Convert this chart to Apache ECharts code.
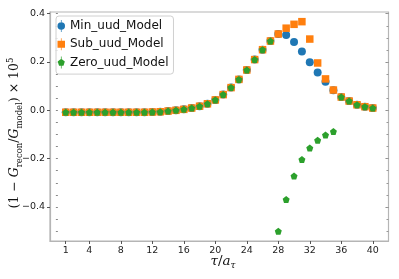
<!DOCTYPE html>
<html>
<head>
<meta charset="utf-8">
<script src="https://cdn.jsdelivr.net/npm/echarts@6/dist/echarts.min.js"></script>
<style>html,body{margin:0;padding:0;background:#fff}#c{width:399px;height:279px}</style>
</head>
<body>
<div id="c"></div>
<script>
const tau = [1,2,3,4,5,6,7,8,9,10,11,12,13,14,15,16,17,18,19,20,21,22,23,24,25,26,27,28,29,30,31,32,33,34,35,36,37,38,39,40];
const minModel = [-0.008,-0.008,-0.008,-0.008,-0.008,-0.008,-0.008,-0.008,-0.008,-0.008,-0.008,-0.007,-0.006,-0.003,0.000,0.004,0.0095,0.017,0.027,0.043,0.065,0.094,0.128,0.167,0.210,0.251,0.287,0.316,0.312,0.283,0.243,0.199,0.157,0.118,0.083,0.055,0.0385,0.023,0.015,0.0095];
const subModel = [-0.008,-0.008,-0.008,-0.008,-0.008,-0.008,-0.008,-0.008,-0.008,-0.008,-0.008,-0.007,-0.006,-0.003,0.000,0.004,0.0095,0.017,0.027,0.043,0.065,0.094,0.128,0.167,0.210,0.251,0.287,0.316,0.340,0.356,0.367,0.295,0.196,0.130,0.084,0.055,0.0385,0.023,0.015,0.0095];
const zeroModel = [-0.008,-0.008,-0.008,-0.008,-0.008,-0.008,-0.008,-0.008,-0.008,-0.008,-0.008,-0.007,-0.006,-0.003,0.000,0.004,0.0095,0.017,0.027,0.043,0.065,0.094,0.128,0.167,0.210,0.251,0.287,-0.501,-0.369,-0.272,-0.204,-0.156,-0.124,-0.102,-0.088,0.055,0.0385,0.023,0.015,0.0095];
const xTicks = [1,4,8,12,16,20,24,28,32,36,40];
const yTicks = [-0.4,-0.2,0.0,0.2,0.4];
const yMinorTicks = [-0.5,-0.45,-0.4,-0.35,-0.3,-0.25,-0.2,-0.15,-0.1,-0.05,0.0,0.05,0.1,0.15,0.2,0.25,0.3,0.35,0.4];
const seriesNames = ['Min_uud_Model','Sub_uud_Model','Zero_uud_Model'];

const pentagon = 'path://M0,-1L0.951,-0.309L0.588,0.809L-0.588,0.809L-0.951,-0.309Z';
const bar = 'M-0.09,-1.6h0.18v0.75h-0.18z M-0.09,0.85h0.18v0.75h-0.18z ';
const iconCircle = 'path://' + bar + 'M1,0A1,1 0 1 1 -1,0A1,1 0 1 1 1,0Z';
const iconRect = 'path://' + bar + 'M-1,-0.95h2v1.9h-2z';
const iconPent = 'path://' + bar + 'M0,-1L0.951,-0.309L0.588,0.809L-0.588,0.809L-0.951,-0.309Z';
const colors = ['#1f77b4','#ff7f0e','#2ca02c'];
const spine = '#b5b5b5';
const pair = arr => tau.map((t,i)=>[t,arr[i]]);
const fmtY = v => (Math.abs(v)<1e-9 ? '0.0' : v.toFixed(1).replace('-','\u2212'));
const YMIN = -0.541, YMAX = 0.407;

function yAx(opts){
  return Object.assign({
    type:'value', min:YMIN, max:YMAX, splitLine:{show:false},
    axisLine:{show:false}, axisLabel:{show:false}, axisTick:{show:false}
  }, opts);
}

const chart = echarts.init(document.getElementById('c'), null, {renderer:'canvas'});
chart.setOption({
  animation:false,
  grid:{left:50, right:10.5, top:12, bottom:38, show:true, borderColor:spine, borderWidth:1.2, backgroundColor:'#fff'},
  legend:{
    orient:'vertical', left:56, top:16,
    padding:[2.5,5,4,1.5], itemGap:3.3, itemWidth:7.5, itemHeight:12,
    borderColor:'#d0d0d0', borderWidth:1, borderRadius:3, backgroundColor:'rgba(255,255,255,0.8)',
    textStyle:{fontFamily:'DejaVu Sans', fontSize:12, lineHeight:15, color:'#111', padding:[0,0,0,0]},
    data:[
      {name:seriesNames[0], icon:iconCircle},
      {name:seriesNames[1], icon:iconRect},
      {name:seriesNames[2], icon:iconPent}
    ]
  },
  xAxis:[
    {type:'value', min:-1, max:42, position:'bottom', splitLine:{show:false},
     axisLine:{show:true, onZero:false, lineStyle:{color:spine, width:1.2}},
     axisTick:{show:true, customValues:xTicks, length:3, lineStyle:{color:'#555'}},
     axisLabel:{customValues:xTicks, margin:5, fontFamily:'DejaVu Sans', fontSize:9.5, color:'#222'}},
  ],
  yAxis:[
    yAx({position:'left', axisLine:{show:true, onZero:false, lineStyle:{color:spine, width:1.2}},
      axisTick:{show:true, customValues:yTicks, length:3, lineStyle:{color:'#555'}},
      axisLabel:{show:true, customValues:yTicks, formatter:fmtY, margin:5, fontFamily:'DejaVu Sans', fontSize:9.5, color:'#222'}}),
    yAx({position:'left', axisTick:{show:true, customValues:yMinorTicks, length:2, lineStyle:{color:'#888'}}}),
    yAx({position:'right', axisTick:{show:true, inside:true, customValues:yTicks, length:3, lineStyle:{color:'#888'}}}),
    yAx({position:'right', axisTick:{show:true, inside:true, customValues:yMinorTicks, length:2, lineStyle:{color:'#999'}}})
  ],
  series:[
    {name:seriesNames[0], type:'scatter', symbol:'circle', symbolSize:8, data:pair(minModel), itemStyle:{color:colors[0], opacity:1}, z:2},
    {name:seriesNames[1], type:'scatter', symbol:'rect', symbolSize:7.5, data:pair(subModel), itemStyle:{color:colors[1], opacity:1}, z:3},
    {name:seriesNames[2], type:'scatter', symbol:pentagon, symbolSize:7, data:pair(zeroModel), itemStyle:{color:colors[2], opacity:1}, z:4}
  ],
  graphic:[
    {type:'text', x:15, y:133, rotation:Math.PI/2,
     style:{
       text:'{n|(1 \u2212 }{i|G}{s|recon}{n|/}{i|G}{s|model}{n|) \u00d7 10}{p|5}',
       align:'center', verticalAlign:'middle',
       rich:{
         n:{fontFamily:'DejaVu Serif', fontSize:12.5, lineHeight:18, fill:'#111', verticalAlign:'middle'},
         i:{fontFamily:'DejaVu Serif', fontStyle:'italic', fontSize:12.5, lineHeight:18, fill:'#111', verticalAlign:'middle'},
         s:{fontFamily:'DejaVu Serif', fontSize:8.5, lineHeight:10, fill:'#111', verticalAlign:'bottom'},
         p:{fontFamily:'DejaVu Serif', fontSize:8.5, lineHeight:10, fill:'#111', verticalAlign:'top'}
       }
     }},
    {type:'text', x:223, y:261,
     style:{
       text:'{i|\u03c4}{n|/}{i|a}{s|\u03c4}',
       align:'center', verticalAlign:'middle',
       rich:{
         n:{fontFamily:'DejaVu Serif', fontSize:13.5, lineHeight:18, fill:'#111', verticalAlign:'middle'},
         i:{fontFamily:'DejaVu Serif', fontStyle:'italic', fontSize:13.5, lineHeight:18, fill:'#111', verticalAlign:'middle'},
         s:{fontFamily:'DejaVu Serif', fontStyle:'italic', fontSize:9, lineHeight:10, fill:'#111', verticalAlign:'bottom'}
       }
     }}
  ]
});
</script>
</body>
</html>
